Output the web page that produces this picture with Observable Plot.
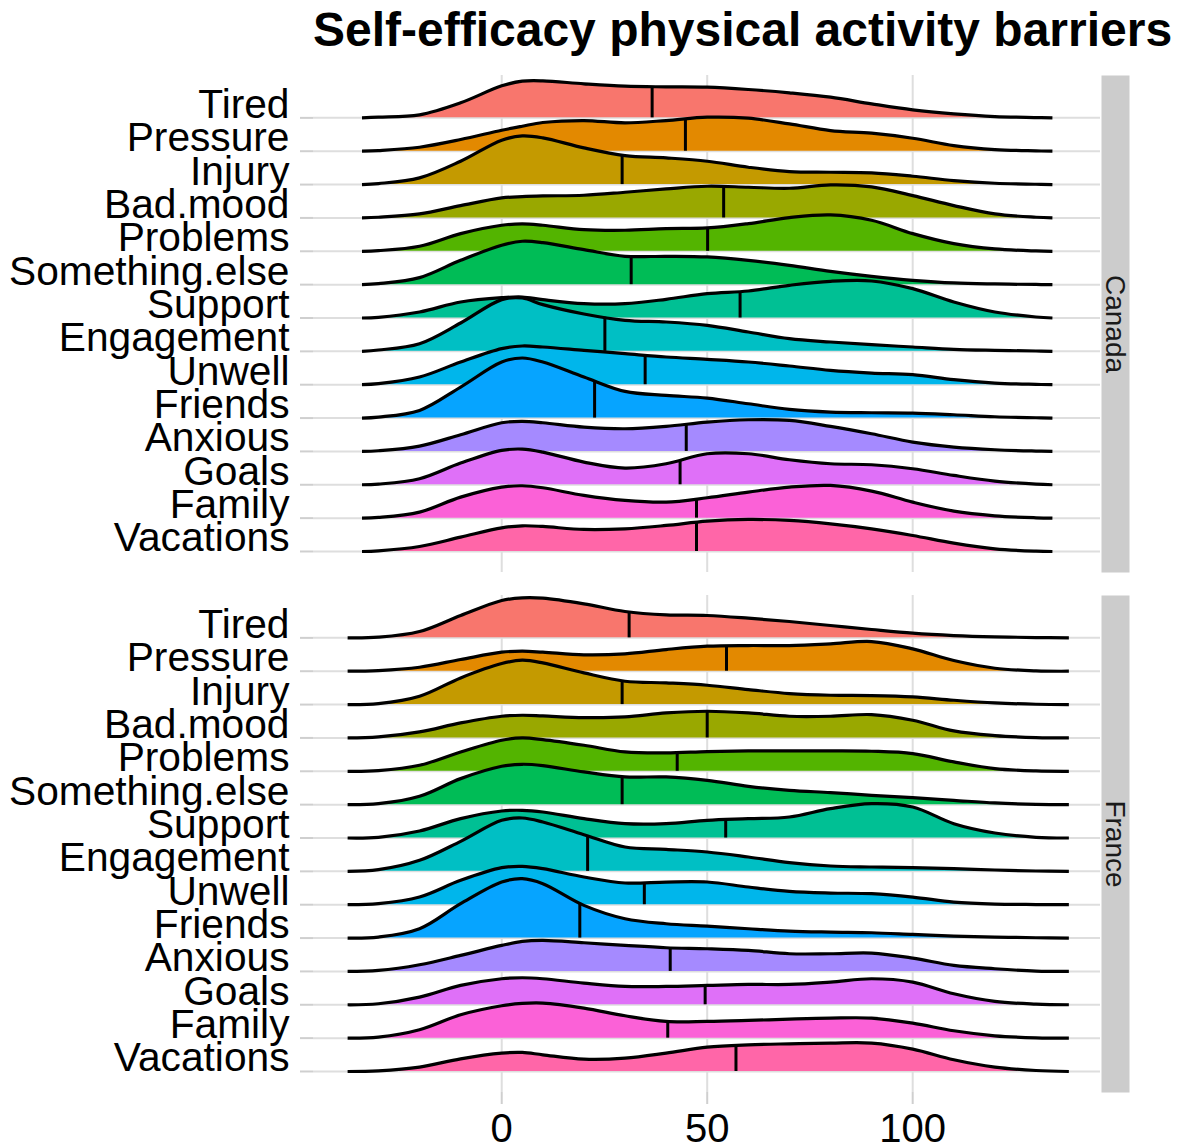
<!DOCTYPE html>
<html><head><meta charset="utf-8">
<script src="https://cdn.jsdelivr.net/npm/d3@7"></script>
<script src="https://cdn.jsdelivr.net/npm/@observablehq/plot@0.6"></script>
<style>
body{margin:0;background:#fff;width:1183px;height:1146px;position:relative;overflow:hidden}
#title{position:absolute;left:313px;top:2px;height:60px;line-height:60px;font:bold 48px "Liberation Sans",Arial,sans-serif;color:#000;white-space:nowrap}
#chart{position:absolute;left:0;top:60px}
</style></head><body>
<div id="title">Self-efficacy physical activity barriers</div>
<div id="chart"></div>
<script>
const categories = ["Tired","Pressure","Injury","Bad.mood","Problems","Something.else","Support","Engagement","Unwell","Friends","Anxious","Goals","Family","Vacations"];
const countries = ["Canada","France"];
const colors = ["#F8766D","#E38900","#C49A00","#99A800","#53B400","#00BC56","#00C094","#00BFC4","#00B6EB","#06A4FF","#A58AFF","#DF70F8","#FB61D7","#FF66A8"];
const xTicks = [0, 50, 100];

// density sample positions (x) per country
const xCanada = [-34,-30,-20,-10,0,5,10,20,30,40,50,60,70,80,90,100,110,120,130,134];
const xFrance = [-37.5,-30,-20,-10,0,5,10,20,30,40,50,60,70,80,90,100,110,120,130,138];

// ridge heights (in row units), one row per category
const densCanada = [
  [0,0.02,0.09,0.45,0.96,1.1,1.11,1.02,0.95,0.93,0.92,0.85,0.75,0.62,0.42,0.24,0.12,0.04,0.01,0],
  [0,0.02,0.12,0.35,0.63,0.75,0.86,0.92,0.85,0.92,1.02,0.99,0.82,0.62,0.54,0.39,0.17,0.05,0.01,0],
  [0,0.03,0.2,0.7,1.33,1.46,1.4,1.1,0.87,0.8,0.7,0.52,0.39,0.37,0.35,0.25,0.12,0.04,0.01,0],
  [0,0.02,0.12,0.37,0.6,0.64,0.66,0.68,0.77,0.87,0.95,0.92,0.89,0.99,0.93,0.67,0.37,0.12,0.02,0],
  [0,0.02,0.15,0.53,0.78,0.82,0.78,0.65,0.63,0.68,0.70,0.83,1.01,1.09,0.93,0.53,0.23,0.07,0.01,0],
  [0,0.03,0.21,0.73,1.18,1.3,1.26,1.05,0.85,0.85,0.83,0.73,0.58,0.4,0.25,0.13,0.05,0.02,0.005,0],
  [0,0.02,0.18,0.48,0.61,0.63,0.55,0.43,0.43,0.56,0.73,0.81,0.98,1.1,1.11,0.88,0.48,0.18,0.03,0],
  [0,0.04,0.23,0.85,1.55,1.6,1.4,1.12,0.93,0.88,0.78,0.58,0.38,0.28,0.2,0.13,0.06,0.03,0.01,0],
  [0,0.03,0.23,0.68,1.08,1.16,1.13,1.03,0.93,0.83,0.76,0.68,0.56,0.43,0.35,0.3,0.15,0.05,0.01,0],
  [0,0.03,0.23,0.93,1.68,1.8,1.68,1.23,0.8,0.68,0.6,0.43,0.26,0.18,0.16,0.15,0.1,0.04,0.01,0],
  [0,0.02,0.16,0.5,0.86,0.9,0.86,0.73,0.68,0.75,0.88,0.95,0.93,0.75,0.53,0.28,0.13,0.05,0.01,0],
  [0,0.02,0.18,0.65,1.03,1.07,0.98,0.68,0.5,0.63,0.93,0.93,0.75,0.63,0.6,0.48,0.28,0.11,0.02,0],
  [0,0.02,0.18,0.63,0.93,0.97,0.91,0.68,0.53,0.48,0.61,0.78,0.93,0.98,0.81,0.48,0.21,0.07,0.01,0],
  [0,0.02,0.15,0.43,0.71,0.77,0.75,0.66,0.68,0.78,0.91,0.96,0.93,0.83,0.68,0.48,0.25,0.08,0.01,0]
];
const densFrance = [
  [0,0.02,0.19,0.67,1.12,1.2,1.19,1.02,0.79,0.69,0.67,0.59,0.49,0.37,0.25,0.14,0.07,0.03,0.01,0],
  [0,0.02,0.12,0.35,0.57,0.6,0.57,0.49,0.52,0.65,0.75,0.77,0.77,0.82,0.89,0.67,0.32,0.09,0.01,0],
  [0,0.03,0.25,0.8,1.23,1.33,1.25,0.95,0.7,0.65,0.58,0.45,0.33,0.28,0.27,0.23,0.13,0.05,0.01,0],
  [0,0.03,0.18,0.45,0.65,0.68,0.66,0.61,0.63,0.75,0.8,0.75,0.65,0.65,0.7,0.53,0.21,0.07,0.01,0],
  [0,0.02,0.18,0.58,0.93,1.0,0.95,0.78,0.58,0.55,0.59,0.61,0.61,0.61,0.6,0.53,0.28,0.08,0.01,0],
  [0,0.03,0.25,0.78,1.15,1.21,1.17,0.98,0.83,0.83,0.73,0.55,0.43,0.36,0.28,0.21,0.13,0.05,0.01,0],
  [0,0.02,0.21,0.58,0.81,0.83,0.78,0.58,0.43,0.43,0.53,0.58,0.63,0.88,1.03,0.93,0.43,0.15,0.02,0],
  [0,0.05,0.33,0.9,1.53,1.6,1.48,1.1,0.73,0.66,0.58,0.43,0.26,0.16,0.13,0.11,0.08,0.04,0.01,0],
  [0,0.03,0.23,0.73,1.11,1.15,1.08,0.83,0.65,0.68,0.68,0.53,0.4,0.35,0.33,0.23,0.08,0.02,0.005,0],
  [0,0.03,0.28,1.03,1.68,1.78,1.63,0.98,0.58,0.43,0.36,0.28,0.21,0.18,0.16,0.11,0.06,0.03,0.01,0],
  [0,0.03,0.2,0.48,0.78,0.9,0.93,0.86,0.78,0.71,0.68,0.63,0.53,0.53,0.55,0.4,0.18,0.08,0.01,0],
  [0,0.03,0.23,0.58,0.78,0.81,0.78,0.65,0.55,0.55,0.58,0.61,0.61,0.68,0.78,0.68,0.33,0.1,0.02,0],
  [0,0.03,0.25,0.7,0.97,1.04,1.05,0.9,0.67,0.5,0.5,0.53,0.57,0.6,0.6,0.45,0.22,0.07,0.01,0],
  [0,0.02,0.13,0.38,0.55,0.57,0.5,0.37,0.4,0.55,0.73,0.8,0.83,0.85,0.85,0.67,0.35,0.13,0.03,0]
];
// medians per category
const medCanada = [36.6,44.7,29.3,54.0,50.1,31.5,58.0,25.1,34.9,22.6,44.9,43.4,47.4,47.4];
const medFrance = [31.0,54.7,29.3,50.0,42.7,29.3,54.5,20.9,34.7,19.0,41.0,49.5,40.4,57.0];

const nCat = categories.length;
const ridges = [];
const medians = [];
countries.forEach((country, ci) => {
  const xs = ci === 0 ? xCanada : xFrance;
  const dens = ci === 0 ? densCanada : densFrance;
  const meds = ci === 0 ? medCanada : medFrance;
  categories.forEach((cat, i) => {
    const base = nCat - 1 - i;
    xs.forEach((x, j) => ridges.push({country, cat, x, base, top: base + dens[i][j]}));
    const m = meds[i];
    const k = Math.max(1, d3.bisectRight(xs, m));
    const t = (m - xs[k - 1]) / (xs[k] - xs[k - 1]);
    const h = dens[i][k - 1] + t * (dens[i][k] - dens[i][k - 1]);
    medians.push({country, cat, m, base, top: base + h});
  });
});

const marks = [
  Plot.ruleY(d3.range(nCat), {y: d => d, stroke: "#dedede", strokeWidth: 2}),
  Plot.ruleX(xTicks, {x: d => d, stroke: "#dedede", strokeWidth: 2}),
  Plot.axisY({ticks: d3.range(nCat), tickFormat: i => categories[nCat - 1 - i], tickSize: 13, tickPadding: 11,
    fontSize: 40.7, lineAnchor: "bottom", stroke: "#cfcfcf", strokeWidth: 2, fill: "#000", label: null}),
  Plot.axisX({ticks: xTicks, tickSize: 12, tickPadding: 9, fontSize: 40, stroke: "#cfcfcf", strokeWidth: 2, fill: "#000", label: null}),
  Plot.frame({fill: "#cccccc", stroke: null, insetLeft: 788, insetRight: -29}),
  Plot.text(countries, {fy: d => d, text: d => d, frameAnchor: "right", textAnchor: "middle", dx: 14, rotate: 90, fontSize: 28, fill: "#1a1a1a"})
];
categories.forEach((cat, i) => {
  const d = ridges.filter(r => r.cat === cat);
  marks.push(Plot.area(d, {x1: "x", y1: "base", y2: "top", fy: "country", fill: colors[i], curve: "catmull-rom"}));
  marks.push(Plot.line(d, {x: "x", y: "top", fy: "country", stroke: "#000", strokeWidth: 3.2, strokeLinecap: "butt", curve: "catmull-rom"}));
  marks.push(Plot.ruleX(medians.filter(r => r.cat === cat), {x: "m", y1: "base", y2: "top", fy: "country", stroke: "#000", strokeWidth: 3}));
});

const chart = Plot.plot({
  width: 1183,
  height: 1086,
  marginLeft: 313,
  marginRight: 83,
  marginTop: 15,
  marginBottom: 54,
  style: {fontFamily: "'Liberation Sans', Arial, sans-serif", background: "white", color: "#000"},
  x: {domain: [-45.8, 145.7]},
  y: {domain: [-0.63, 14.27]},
  fy: {domain: countries, paddingInner: 23 / 520, paddingOuter: 0, axis: null, label: null},
  marks
});
document.getElementById("chart").appendChild(chart);
</script>
</body></html>
